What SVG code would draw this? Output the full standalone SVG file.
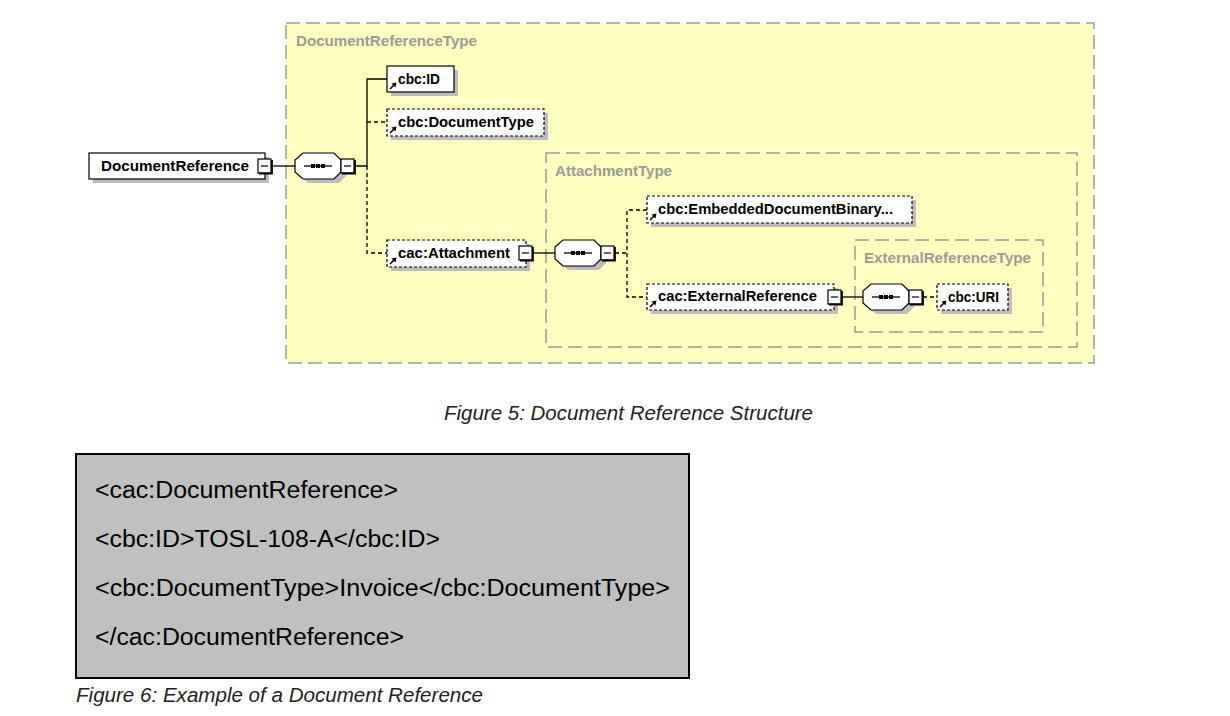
<svg xmlns="http://www.w3.org/2000/svg" xmlns:xlink="http://www.w3.org/1999/xlink" width="1230" height="716" viewBox="0 0 1230 716">
<style>
  .typebox { fill: #FFFFC0; stroke: #999999; stroke-width: 1.5; stroke-dasharray: 14 6; }
  .typelbl { font-family: "Liberation Sans", Arial, sans-serif; font-weight: bold; font-size: 14px; fill: #9a9a9a; }
  .shadow { fill: #bdbdbd; stroke: none; }
  .el { fill: #ffffff; stroke: #000000; stroke-width: 1.2; }
  .opt { fill: #ffffff; stroke: #000000; stroke-width: 1.2; stroke-dasharray: 3 2; }
  .lbl { font-family: "Liberation Sans", Arial, sans-serif; font-weight: bold; font-size: 14px; fill: #000000; }
  .conn { fill: none; stroke: #000000; stroke-width: 1.3; }
  .dconn { fill: none; stroke: #000000; stroke-width: 1.3; stroke-dasharray: 4 3; }
  .minus { fill: #ffffff; stroke: #000000; stroke-width: 1.2; }
  .code { font-family: "Liberation Sans", Arial, sans-serif; font-size: 23px; fill: #000000; }
  .cap { font-family: "Liberation Sans", Arial, sans-serif; font-style: italic; font-size: 20px; fill: #222222; }
</style>
<defs>
  <g id="refArrow">
    <path d="M3,-3 L7,-7" stroke="#000" stroke-width="1.6" fill="none"/>
    <polygon points="9.5,-9.5 4.5,-8.5 8.5,-4.5" fill="#000"/>
  </g>
  <g id="minusBox">
    <rect x="0" y="0" width="13" height="14" class="minus"/>
    <path d="M1,14.5 H14 V1" stroke="#000" stroke-width="1.8" fill="none"/>
    <path d="M3,7 H10" stroke="#000" stroke-width="1.2"/>
  </g>
  <g id="seqIcon">
    <path d="M0,0 H28" stroke="#000" stroke-width="1.3"/>
    <rect x="7" y="-2" width="4" height="4" fill="#000"/>
    <rect x="12" y="-2" width="4" height="4" fill="#000"/>
    <rect x="17" y="-2" width="4" height="4" fill="#000"/>
  </g>
  <path id="oct" d="M8,0 H39 L46,7 V19 L39,26 H8 L0,19 V7 Z"/>
</defs>

<!-- type containers -->
<g id="DocumentReferenceType">
  <rect x="286" y="23" width="808" height="340" class="typebox"/>
  <text x="296" y="46" class="typelbl" textLength="181" lengthAdjust="spacingAndGlyphs">DocumentReferenceType</text>
</g>
<g id="AttachmentType">
  <rect x="546" y="153" width="531" height="194" class="typebox"/>
  <text x="555" y="176" class="typelbl" textLength="117" lengthAdjust="spacingAndGlyphs">AttachmentType</text>
</g>
<g id="ExternalReferenceType">
  <rect x="855" y="240" width="188" height="92" class="typebox"/>
  <text x="864" y="263" class="typelbl" textLength="167" lengthAdjust="spacingAndGlyphs">ExternalReferenceType</text>
</g>

<!-- connectors -->
<g id="connectors">
  <path d="M272,166 H295" class="conn"/>
  <path d="M355,166 H367 V79 H387" class="conn"/>
  <path d="M367,122 H387" class="dconn"/>
  <path d="M367,166 V253 H387" class="dconn"/>
  <path d="M533,253 H555" class="conn"/>
  <path d="M615,253 H627" class="dconn"/>
  <path d="M647,210 H627 V297 H647" class="dconn"/>
  <path d="M842,297 H863" class="conn"/>
  <path d="M923,297 H937" class="dconn"/>
</g>

<!-- nodes -->
<g id="DocumentReference">
  <rect x="93" y="157" width="176" height="26" class="shadow"/>
  <rect x="89" y="153" width="176" height="26" class="el"/>
  <text x="101" y="171" class="lbl" textLength="148" lengthAdjust="spacingAndGlyphs">DocumentReference</text>
  <use xlink:href="#minusBox" x="258" y="159"/>
</g>

<g id="seq1">
  <use xlink:href="#oct" x="300" y="157" class="shadow"/>
  <use xlink:href="#oct" x="295" y="153" fill="#fff" stroke="#000" stroke-width="1.2"/>
  <use xlink:href="#seqIcon" x="304" y="166"/>
  <use xlink:href="#minusBox" x="341" y="159"/>
</g>

<g id="cbcID">
  <rect x="391" y="70" width="67" height="26" class="shadow"/>
  <rect x="387" y="66" width="67" height="26" class="el"/>
  <use xlink:href="#refArrow" x="387" y="92"/>
  <text x="398" y="84" class="lbl" textLength="42" lengthAdjust="spacingAndGlyphs">cbc:ID</text>
</g>

<g id="cbcDocumentType">
  <rect x="391" y="113" width="157" height="27" class="shadow"/>
  <rect x="387" y="109" width="157" height="27" class="opt"/>
  <use xlink:href="#refArrow" x="387" y="136"/>
  <text x="398" y="127" class="lbl" textLength="136" lengthAdjust="spacingAndGlyphs">cbc:DocumentType</text>
</g>

<g id="cacAttachment">
  <rect x="391" y="244" width="139" height="27" class="shadow"/>
  <rect x="387" y="240" width="139" height="27" class="opt"/>
  <use xlink:href="#refArrow" x="387" y="267"/>
  <text x="398" y="258" class="lbl" textLength="112" lengthAdjust="spacingAndGlyphs">cac:Attachment</text>
  <use xlink:href="#minusBox" x="519" y="246"/>
</g>

<g id="seq2">
  <use xlink:href="#oct" x="560" y="244" class="shadow"/>
  <use xlink:href="#oct" x="555" y="240" fill="#fff" stroke="#000" stroke-width="1.2"/>
  <use xlink:href="#seqIcon" x="564" y="253"/>
  <use xlink:href="#minusBox" x="601" y="246"/>
</g>

<g id="cbcEmbeddedDocumentBinary">
  <rect x="651" y="200" width="265" height="27" class="shadow"/>
  <rect x="647" y="196" width="265" height="27" class="opt"/>
  <use xlink:href="#refArrow" x="647" y="223"/>
  <text x="658" y="214" class="lbl" textLength="235" lengthAdjust="spacingAndGlyphs">cbc:EmbeddedDocumentBinary...</text>
</g>

<g id="cacExternalReference">
  <rect x="651" y="288" width="187" height="26" class="shadow"/>
  <rect x="647" y="284" width="187" height="26" class="opt"/>
  <use xlink:href="#refArrow" x="647" y="310"/>
  <text x="658" y="301" class="lbl" textLength="159" lengthAdjust="spacingAndGlyphs">cac:ExternalReference</text>
  <use xlink:href="#minusBox" x="828" y="290"/>
</g>

<g id="seq3">
  <use xlink:href="#oct" x="868" y="288" class="shadow"/>
  <use xlink:href="#oct" x="863" y="284" fill="#fff" stroke="#000" stroke-width="1.2"/>
  <use xlink:href="#seqIcon" x="872" y="297"/>
  <use xlink:href="#minusBox" x="909" y="290"/>
</g>

<g id="cbcURI">
  <rect x="941" y="288" width="71" height="26" class="shadow"/>
  <rect x="937" y="284" width="71" height="26" class="opt"/>
  <use xlink:href="#refArrow" x="937" y="310"/>
  <text x="948" y="302" class="lbl" textLength="51" lengthAdjust="spacingAndGlyphs">cbc:URI</text>
</g>

<!-- caption 5 -->
<text x="444" y="420" class="cap" textLength="369" lengthAdjust="spacingAndGlyphs">Figure 5: Document Reference Structure</text>

<!-- example box -->
<g id="example">
  <rect x="76" y="454" width="613" height="224" fill="#C0C0C0" stroke="#000" stroke-width="2"/>
  <text x="95" y="498" class="code" textLength="303" lengthAdjust="spacingAndGlyphs">&lt;cac:DocumentReference&gt;</text>
  <text x="95" y="547" class="code" textLength="345" lengthAdjust="spacingAndGlyphs">&lt;cbc:ID&gt;TOSL-108-A&lt;/cbc:ID&gt;</text>
  <text x="95" y="596" class="code" textLength="575" lengthAdjust="spacingAndGlyphs">&lt;cbc:DocumentType&gt;Invoice&lt;/cbc:DocumentType&gt;</text>
  <text x="95" y="645" class="code" textLength="309" lengthAdjust="spacingAndGlyphs">&lt;/cac:DocumentReference&gt;</text>
</g>

<text x="76" y="702" class="cap" textLength="407" lengthAdjust="spacingAndGlyphs">Figure 6: Example of a Document Reference</text>
</svg>
